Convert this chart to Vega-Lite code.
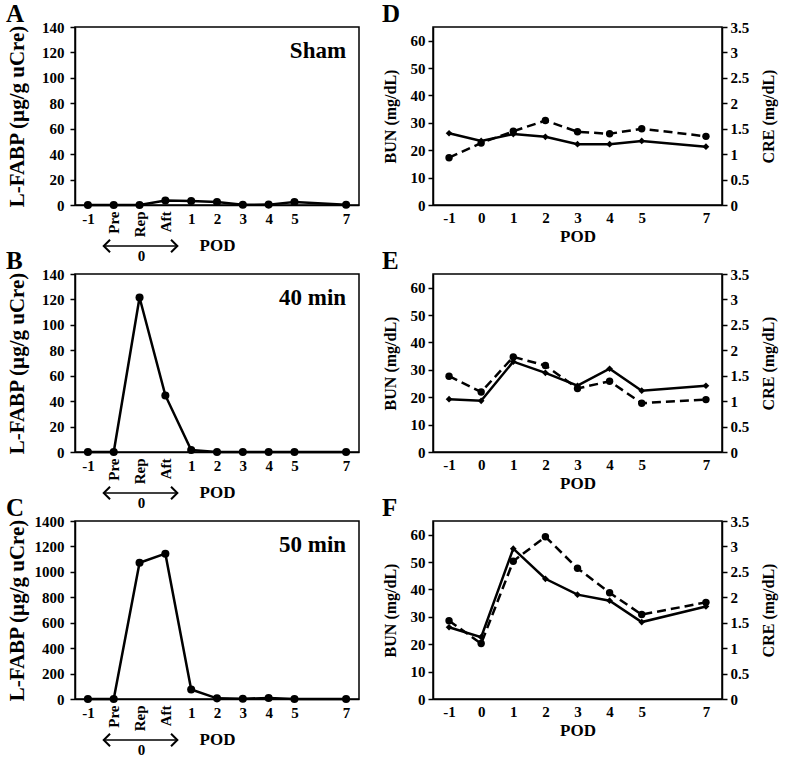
{
  "$schema": "https://vega.github.io/schema/vega-lite/v6.json",
  "padding": {"left": 5, "top": 1, "right": 2, "bottom": 2},
  "background": "white",
  "config": {
    "font": "Liberation Serif",
    "view": {"stroke": "black", "strokeWidth": 1.5},
    "axis": {
      "labelFont": "Liberation Serif", "titleFont": "Liberation Serif",
      "labelFontWeight": "bold", "titleFontWeight": "bold",
      "labelFontSize": 15, "titleFontSize": 16,
      "labelColor": "black", "titleColor": "black",
      "domainColor": "black", "tickColor": "black",
      "domainWidth": 1.5, "tickWidth": 1.5, "grid": false, "labelOverlap": false
    },
    "title": {"font": "Liberation Serif", "fontSize": 25, "fontWeight": "bold", "anchor": "start", "color": "black", "offset": -7},
    "text": {"font": "Liberation Serif", "fontWeight": "bold", "color": "black"}
  },
  "datasets": {
    "fabp": [
      {"panel": "A", "time": "-1", "value": 0},
      {"panel": "A", "time": "Pre", "value": 0},
      {"panel": "A", "time": "Rep", "value": 0},
      {"panel": "A", "time": "Aft", "value": 3.5},
      {"panel": "A", "time": "1", "value": 3.2},
      {"panel": "A", "time": "2", "value": 2.4},
      {"panel": "A", "time": "3", "value": 0.2},
      {"panel": "A", "time": "4", "value": 0.3},
      {"panel": "A", "time": "5", "value": 2.4},
      {"panel": "A", "time": "7", "value": 0.2},
      {"panel": "B", "time": "-1", "value": 0},
      {"panel": "B", "time": "Pre", "value": 0},
      {"panel": "B", "time": "Rep", "value": 121.5},
      {"panel": "B", "time": "Aft", "value": 44.5},
      {"panel": "B", "time": "1", "value": 1.5},
      {"panel": "B", "time": "2", "value": 0},
      {"panel": "B", "time": "3", "value": 0},
      {"panel": "B", "time": "4", "value": 0},
      {"panel": "B", "time": "5", "value": 0},
      {"panel": "B", "time": "7", "value": 0},
      {"panel": "C", "time": "-1", "value": 0},
      {"panel": "C", "time": "Pre", "value": 0},
      {"panel": "C", "time": "Rep", "value": 1072},
      {"panel": "C", "time": "Aft", "value": 1143},
      {"panel": "C", "time": "1", "value": 75},
      {"panel": "C", "time": "2", "value": 5},
      {"panel": "C", "time": "3", "value": 2},
      {"panel": "C", "time": "4", "value": 8},
      {"panel": "C", "time": "5", "value": 0},
      {"panel": "C", "time": "7", "value": 0}
    ],
    "renal": [
      {"panel": "D", "day": -1, "bun": 26.2, "cre": 0.93},
      {"panel": "D", "day": 0, "bun": 23.4, "cre": 1.22},
      {"panel": "D", "day": 1, "bun": 25.9, "cre": 1.45},
      {"panel": "D", "day": 2, "bun": 24.9, "cre": 1.66},
      {"panel": "D", "day": 3, "bun": 22.2, "cre": 1.44},
      {"panel": "D", "day": 4, "bun": 22.2, "cre": 1.4},
      {"panel": "D", "day": 5, "bun": 23.4, "cre": 1.5},
      {"panel": "D", "day": 7, "bun": 21.3, "cre": 1.35},
      {"panel": "E", "day": -1, "bun": 19.3, "cre": 1.49},
      {"panel": "E", "day": 0, "bun": 18.7, "cre": 1.18},
      {"panel": "E", "day": 1, "bun": 33, "cre": 1.87},
      {"panel": "E", "day": 2, "bun": 28.9, "cre": 1.7},
      {"panel": "E", "day": 3, "bun": 24.2, "cre": 1.25},
      {"panel": "E", "day": 4, "bun": 30.4, "cre": 1.39},
      {"panel": "E", "day": 5, "bun": 22.4, "cre": 0.96},
      {"panel": "E", "day": 7, "bun": 24.2, "cre": 1.03},
      {"panel": "F", "day": -1, "bun": 26.2, "cre": 1.54},
      {"panel": "F", "day": 0, "bun": 22.6, "cre": 1.09},
      {"panel": "F", "day": 1, "bun": 54.9, "cre": 2.71},
      {"panel": "F", "day": 2, "bun": 43.9, "cre": 3.19},
      {"panel": "F", "day": 3, "bun": 38.1, "cre": 2.57},
      {"panel": "F", "day": 4, "bun": 35.9, "cre": 2.09},
      {"panel": "F", "day": 5, "bun": 28.1, "cre": 1.66},
      {"panel": "F", "day": 7, "bun": 33.8, "cre": 1.9}
    ]
  },
  "columns": 2,
  "bounds": "flush",
  "align": "each",
  "spacing": {"row": 69, "column": 74},
  "concat": [
    {
      "title": {"text": "A"},
      "width": 284, "height": 178,
      "layer": [
        {
          "data": {"name": "fabp"},
          "transform": [{"filter": "datum.panel === 'A'"}],
          "encoding": {
            "x": {"field": "time", "type": "ordinal", "scale": {"type": "point", "domain": ["-1", "Pre", "Rep", "Aft", "1", "2", "3", "4", "5", "6", "7"], "padding": 0.5},
              "axis": {"title": "POD", "titleFontSize": 17, "ticks": false, "labelPadding": 6, "labelAngle": 0, "titlePadding": 1, "labelOverlap": false,
                "labelExpr": "datum.value === '6' ? '' : datum.value",
                "encoding": {"labels": {
                  "angle": {"condition": {"test": "indexof(['Pre','Rep','Aft'], datum.value) >= 0", "value": -90}, "value": 0},
                  "align": {"condition": {"test": "indexof(['Pre','Rep','Aft'], datum.value) >= 0", "value": "right"}, "value": "center"},
                  "baseline": {"condition": {"test": "indexof(['Pre','Rep','Aft'], datum.value) >= 0", "value": "middle"}, "value": "top"}}}}},
            "y": {"field": "value", "type": "quantitative", "scale": {"domain": [0, 140], "nice": false},
              "axis": {"title": "L-FABP (µg/g uCre)", "titleFontSize": 21, "values": [0, 20, 40, 60, 80, 100, 120, 140], "tickCount": 20, "format": "d", "labelOverlap": false, "tickSize": 5, "labelPadding": 6, "minExtent": 44, "maxExtent": 44, "titlePadding": 4}},
            "order": {"value": null}
          },
          "layer": [
            {"mark": {"type": "line", "color": "black", "strokeWidth": 2.5}},
            {"mark": {"type": "point", "filled": true, "color": "black", "size": 65, "opacity": 1}}
          ]
        },
        {
          "data": {"values": [{"note": "Sham"}]},
          "mark": {"type": "text", "align": "right", "baseline": "alphabetic", "fontSize": 23, "xOffset": 0, "yOffset": 31},
          "encoding": {"x": {"datum": "7", "type": "ordinal"}, "y": {"datum": 140, "type": "quantitative"}, "text": {"field": "note"}}
        },
        {
          "data": {"values": [{"label": "0"}]},
          "layer": [
            {"mark": {"type": "rule", "color": "black", "strokeWidth": 1.5, "xOffset": -10, "x2Offset": 12, "yOffset": 41},
             "encoding": {"x": {"datum": "Pre", "type": "ordinal"}, "x2": {"datum": "Aft"}, "y": {"datum": 0, "type": "quantitative"}}},
            {"mark": {"type": "point", "shape": "M1,-1L0,0L1,1", "filled": false, "stroke": "black", "strokeWidth": 2, "size": 160, "opacity": 1, "xOffset": -10, "yOffset": 41},
             "encoding": {"x": {"datum": "Pre", "type": "ordinal"}, "y": {"datum": 0, "type": "quantitative"}}},
            {"mark": {"type": "point", "shape": "M-1,-1L0,0L-1,1", "filled": false, "stroke": "black", "strokeWidth": 2, "size": 160, "opacity": 1, "xOffset": 12, "yOffset": 41},
             "encoding": {"x": {"datum": "Aft", "type": "ordinal"}, "y": {"datum": 0, "type": "quantitative"}}},
            {"mark": {"type": "text", "fontSize": 15, "baseline": "middle", "align": "center", "xOffset": 2, "yOffset": 51},
             "encoding": {"x": {"datum": "Rep", "type": "ordinal"}, "y": {"datum": 0, "type": "quantitative"}, "text": {"field": "label"}}}
          ]
        }
      ]
    },
    {
      "title": {"text": "D"},
      "width": 289, "height": 178,
      "data": {"name": "renal"},
      "transform": [{"filter": "datum.panel === 'D'"}],
      "encoding": {
        "x": {"field": "day", "type": "quantitative", "scale": {"domain": [-1.5, 7.5], "nice": false},
          "axis": {"title": "POD", "titleFontSize": 17, "values": [-1, 0, 1, 2, 3, 4, 5, 7], "tickCount": 20, "labelExpr": "datum.value < 0 ? '-1' : '' + datum.value", "ticks": false, "labelPadding": 5, "titlePadding": 3}}
      },
      "layer": [
        {
          "encoding": {"y": {"field": "bun", "type": "quantitative", "scale": {"domain": [0, 65], "nice": false},
            "axis": {"title": "BUN (mg/dL)", "values": [0, 10, 20, 30, 40, 50, 60], "tickCount": 20, "tickSize": 5, "labelPadding": 3, "minExtent": 25, "maxExtent": 25, "titlePadding": 10}}},
          "layer": [
            {"mark": {"type": "line", "color": "black", "strokeWidth": 2.5}},
            {"mark": {"type": "point", "shape": "diamond", "filled": true, "color": "black", "size": 45, "opacity": 1}},
            {"data": {"values": [{"note": "Sham"}]},
             "mark": {"type": "text", "align": "right", "baseline": "alphabetic", "fontSize": 23, "xOffset": 4, "yOffset": 30},
             "encoding": {"x": {"datum": 7, "type": "quantitative"}, "y": {"datum": 65, "type": "quantitative"}, "text": {"field": "note"}}}
          ]
        },
        {
          "encoding": {"y": {"field": "cre", "type": "quantitative", "scale": {"domain": [0, 3.5], "nice": false},
            "axis": {"orient": "right", "title": "CRE (mg/dL)", "values": [0, 0.5, 1, 1.5, 2, 2.5, 3, 3.5], "tickCount": 20, "format": "~g", "tickSize": 5, "labelPadding": 3, "minExtent": 28, "maxExtent": 28, "titlePadding": 10, "titleAngle": -90, "titleBaseline": "top"}}},
          "layer": [
            {"mark": {"type": "line", "color": "black", "strokeWidth": 2.5, "strokeDash": [9, 5]}},
            {"mark": {"type": "point", "shape": "circle", "filled": true, "color": "black", "size": 55, "opacity": 1}}
          ]
        }
      ],
      "resolve": {"scale": {"y": "independent"}}
    },
    {
      "title": {"text": "B"},
      "width": 284, "height": 178,
      "layer": [
        {
          "data": {"name": "fabp"},
          "transform": [{"filter": "datum.panel === 'B'"}],
          "encoding": {
            "x": {"field": "time", "type": "ordinal", "scale": {"type": "point", "domain": ["-1", "Pre", "Rep", "Aft", "1", "2", "3", "4", "5", "6", "7"], "padding": 0.5},
              "axis": {"title": "POD", "titleFontSize": 17, "ticks": false, "labelPadding": 6, "labelAngle": 0, "titlePadding": 1, "labelOverlap": false,
                "labelExpr": "datum.value === '6' ? '' : datum.value",
                "encoding": {"labels": {
                  "angle": {"condition": {"test": "indexof(['Pre','Rep','Aft'], datum.value) >= 0", "value": -90}, "value": 0},
                  "align": {"condition": {"test": "indexof(['Pre','Rep','Aft'], datum.value) >= 0", "value": "right"}, "value": "center"},
                  "baseline": {"condition": {"test": "indexof(['Pre','Rep','Aft'], datum.value) >= 0", "value": "middle"}, "value": "top"}}}}},
            "y": {"field": "value", "type": "quantitative", "scale": {"domain": [0, 140], "nice": false},
              "axis": {"title": "L-FABP (µg/g uCre)", "titleFontSize": 21, "values": [0, 20, 40, 60, 80, 100, 120, 140], "tickCount": 20, "format": "d", "labelOverlap": false, "tickSize": 5, "labelPadding": 6, "minExtent": 44, "maxExtent": 44, "titlePadding": 4}},
            "order": {"value": null}
          },
          "layer": [
            {"mark": {"type": "line", "color": "black", "strokeWidth": 2.5}},
            {"mark": {"type": "point", "filled": true, "color": "black", "size": 65, "opacity": 1}}
          ]
        },
        {
          "data": {"values": [{"note": "40 min"}]},
          "mark": {"type": "text", "align": "right", "baseline": "alphabetic", "fontSize": 23, "xOffset": 0, "yOffset": 31},
          "encoding": {"x": {"datum": "7", "type": "ordinal"}, "y": {"datum": 140, "type": "quantitative"}, "text": {"field": "note"}}
        },
        {
          "data": {"values": [{"label": "0"}]},
          "layer": [
            {"mark": {"type": "rule", "color": "black", "strokeWidth": 1.5, "xOffset": -10, "x2Offset": 12, "yOffset": 41},
             "encoding": {"x": {"datum": "Pre", "type": "ordinal"}, "x2": {"datum": "Aft"}, "y": {"datum": 0, "type": "quantitative"}}},
            {"mark": {"type": "point", "shape": "M1,-1L0,0L1,1", "filled": false, "stroke": "black", "strokeWidth": 2, "size": 160, "opacity": 1, "xOffset": -10, "yOffset": 41},
             "encoding": {"x": {"datum": "Pre", "type": "ordinal"}, "y": {"datum": 0, "type": "quantitative"}}},
            {"mark": {"type": "point", "shape": "M-1,-1L0,0L-1,1", "filled": false, "stroke": "black", "strokeWidth": 2, "size": 160, "opacity": 1, "xOffset": 12, "yOffset": 41},
             "encoding": {"x": {"datum": "Aft", "type": "ordinal"}, "y": {"datum": 0, "type": "quantitative"}}},
            {"mark": {"type": "text", "fontSize": 15, "baseline": "middle", "align": "center", "xOffset": 2, "yOffset": 51},
             "encoding": {"x": {"datum": "Rep", "type": "ordinal"}, "y": {"datum": 0, "type": "quantitative"}, "text": {"field": "label"}}}
          ]
        }
      ]
    },
    {
      "title": {"text": "E"},
      "width": 289, "height": 178,
      "data": {"name": "renal"},
      "transform": [{"filter": "datum.panel === 'E'"}],
      "encoding": {
        "x": {"field": "day", "type": "quantitative", "scale": {"domain": [-1.5, 7.5], "nice": false},
          "axis": {"title": "POD", "titleFontSize": 17, "values": [-1, 0, 1, 2, 3, 4, 5, 7], "tickCount": 20, "labelExpr": "datum.value < 0 ? '-1' : '' + datum.value", "ticks": false, "labelPadding": 5, "titlePadding": 3}}
      },
      "layer": [
        {
          "encoding": {"y": {"field": "bun", "type": "quantitative", "scale": {"domain": [0, 65], "nice": false},
            "axis": {"title": "BUN (mg/dL)", "values": [0, 10, 20, 30, 40, 50, 60], "tickCount": 20, "tickSize": 5, "labelPadding": 3, "minExtent": 25, "maxExtent": 25, "titlePadding": 10}}},
          "layer": [
            {"mark": {"type": "line", "color": "black", "strokeWidth": 2.5}},
            {"mark": {"type": "point", "shape": "diamond", "filled": true, "color": "black", "size": 45, "opacity": 1}},
            {"data": {"values": [{"note": "40 min"}]},
             "mark": {"type": "text", "align": "right", "baseline": "alphabetic", "fontSize": 23, "xOffset": 4, "yOffset": 30},
             "encoding": {"x": {"datum": 7, "type": "quantitative"}, "y": {"datum": 65, "type": "quantitative"}, "text": {"field": "note"}}}
          ]
        },
        {
          "encoding": {"y": {"field": "cre", "type": "quantitative", "scale": {"domain": [0, 3.5], "nice": false},
            "axis": {"orient": "right", "title": "CRE (mg/dL)", "values": [0, 0.5, 1, 1.5, 2, 2.5, 3, 3.5], "tickCount": 20, "format": "~g", "tickSize": 5, "labelPadding": 3, "minExtent": 28, "maxExtent": 28, "titlePadding": 10, "titleAngle": -90, "titleBaseline": "top"}}},
          "layer": [
            {"mark": {"type": "line", "color": "black", "strokeWidth": 2.5, "strokeDash": [9, 5]}},
            {"mark": {"type": "point", "shape": "circle", "filled": true, "color": "black", "size": 55, "opacity": 1}}
          ]
        }
      ],
      "resolve": {"scale": {"y": "independent"}}
    },
    {
      "title": {"text": "C"},
      "width": 284, "height": 178,
      "layer": [
        {
          "data": {"name": "fabp"},
          "transform": [{"filter": "datum.panel === 'C'"}],
          "encoding": {
            "x": {"field": "time", "type": "ordinal", "scale": {"type": "point", "domain": ["-1", "Pre", "Rep", "Aft", "1", "2", "3", "4", "5", "6", "7"], "padding": 0.5},
              "axis": {"title": "POD", "titleFontSize": 17, "ticks": false, "labelPadding": 6, "labelAngle": 0, "titlePadding": 1, "labelOverlap": false,
                "labelExpr": "datum.value === '6' ? '' : datum.value",
                "encoding": {"labels": {
                  "angle": {"condition": {"test": "indexof(['Pre','Rep','Aft'], datum.value) >= 0", "value": -90}, "value": 0},
                  "align": {"condition": {"test": "indexof(['Pre','Rep','Aft'], datum.value) >= 0", "value": "right"}, "value": "center"},
                  "baseline": {"condition": {"test": "indexof(['Pre','Rep','Aft'], datum.value) >= 0", "value": "middle"}, "value": "top"}}}}},
            "y": {"field": "value", "type": "quantitative", "scale": {"domain": [0, 1400], "nice": false},
              "axis": {"title": "L-FABP (µg/g uCre)", "titleFontSize": 21, "values": [0, 200, 400, 600, 800, 1000, 1200, 1400], "tickCount": 20, "format": "d", "labelOverlap": false, "tickSize": 5, "labelPadding": 6, "minExtent": 44, "maxExtent": 44, "titlePadding": 4}},
            "order": {"value": null}
          },
          "layer": [
            {"mark": {"type": "line", "color": "black", "strokeWidth": 2.5}},
            {"mark": {"type": "point", "filled": true, "color": "black", "size": 65, "opacity": 1}}
          ]
        },
        {
          "data": {"values": [{"note": "50 min"}]},
          "mark": {"type": "text", "align": "right", "baseline": "alphabetic", "fontSize": 23, "xOffset": 0, "yOffset": 31},
          "encoding": {"x": {"datum": "7", "type": "ordinal"}, "y": {"datum": 1400, "type": "quantitative"}, "text": {"field": "note"}}
        },
        {
          "data": {"values": [{"label": "0"}]},
          "layer": [
            {"mark": {"type": "rule", "color": "black", "strokeWidth": 1.5, "xOffset": -10, "x2Offset": 12, "yOffset": 41},
             "encoding": {"x": {"datum": "Pre", "type": "ordinal"}, "x2": {"datum": "Aft"}, "y": {"datum": 0, "type": "quantitative"}}},
            {"mark": {"type": "point", "shape": "M1,-1L0,0L1,1", "filled": false, "stroke": "black", "strokeWidth": 2, "size": 160, "opacity": 1, "xOffset": -10, "yOffset": 41},
             "encoding": {"x": {"datum": "Pre", "type": "ordinal"}, "y": {"datum": 0, "type": "quantitative"}}},
            {"mark": {"type": "point", "shape": "M-1,-1L0,0L-1,1", "filled": false, "stroke": "black", "strokeWidth": 2, "size": 160, "opacity": 1, "xOffset": 12, "yOffset": 41},
             "encoding": {"x": {"datum": "Aft", "type": "ordinal"}, "y": {"datum": 0, "type": "quantitative"}}},
            {"mark": {"type": "text", "fontSize": 15, "baseline": "middle", "align": "center", "xOffset": 2, "yOffset": 51},
             "encoding": {"x": {"datum": "Rep", "type": "ordinal"}, "y": {"datum": 0, "type": "quantitative"}, "text": {"field": "label"}}}
          ]
        }
      ]
    },
    {
      "title": {"text": "F"},
      "width": 289, "height": 178,
      "data": {"name": "renal"},
      "transform": [{"filter": "datum.panel === 'F'"}],
      "encoding": {
        "x": {"field": "day", "type": "quantitative", "scale": {"domain": [-1.5, 7.5], "nice": false},
          "axis": {"title": "POD", "titleFontSize": 17, "values": [-1, 0, 1, 2, 3, 4, 5, 7], "tickCount": 20, "labelExpr": "datum.value < 0 ? '-1' : '' + datum.value", "ticks": false, "labelPadding": 5, "titlePadding": 3}}
      },
      "layer": [
        {
          "encoding": {"y": {"field": "bun", "type": "quantitative", "scale": {"domain": [0, 65], "nice": false},
            "axis": {"title": "BUN (mg/dL)", "values": [0, 10, 20, 30, 40, 50, 60], "tickCount": 20, "tickSize": 5, "labelPadding": 3, "minExtent": 25, "maxExtent": 25, "titlePadding": 10}}},
          "layer": [
            {"mark": {"type": "line", "color": "black", "strokeWidth": 2.5}},
            {"mark": {"type": "point", "shape": "diamond", "filled": true, "color": "black", "size": 45, "opacity": 1}},
            {"data": {"values": [{"note": "50 min"}]},
             "mark": {"type": "text", "align": "right", "baseline": "alphabetic", "fontSize": 23, "xOffset": 4, "yOffset": 30},
             "encoding": {"x": {"datum": 7, "type": "quantitative"}, "y": {"datum": 65, "type": "quantitative"}, "text": {"field": "note"}}}
          ]
        },
        {
          "encoding": {"y": {"field": "cre", "type": "quantitative", "scale": {"domain": [0, 3.5], "nice": false},
            "axis": {"orient": "right", "title": "CRE (mg/dL)", "values": [0, 0.5, 1, 1.5, 2, 2.5, 3, 3.5], "tickCount": 20, "format": "~g", "tickSize": 5, "labelPadding": 3, "minExtent": 28, "maxExtent": 28, "titlePadding": 10, "titleAngle": -90, "titleBaseline": "top"}}},
          "layer": [
            {"mark": {"type": "line", "color": "black", "strokeWidth": 2.5, "strokeDash": [9, 5]}},
            {"mark": {"type": "point", "shape": "circle", "filled": true, "color": "black", "size": 55, "opacity": 1}}
          ]
        }
      ],
      "resolve": {"scale": {"y": "independent"}}
    }
  ]
}
